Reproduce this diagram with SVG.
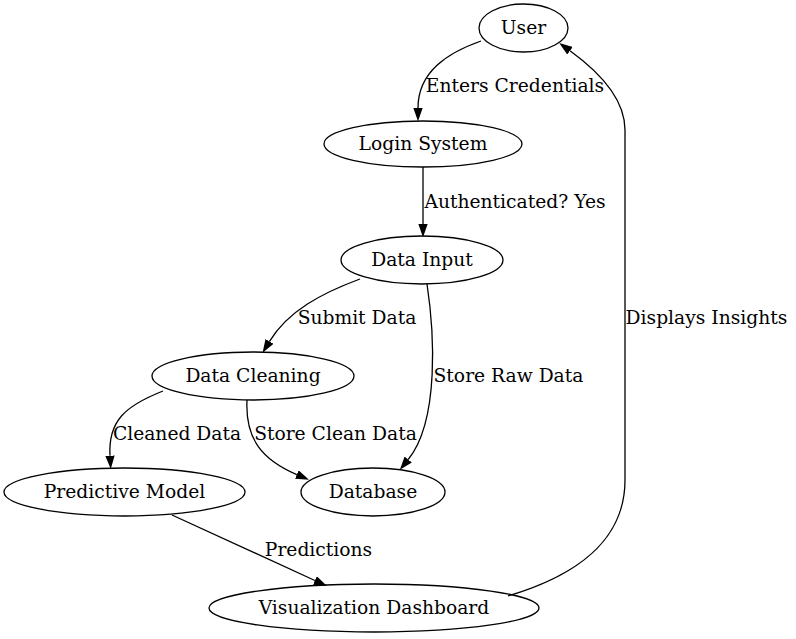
<svg xmlns="http://www.w3.org/2000/svg" width="796" height="639" viewBox="0 0 796 639">
<style>
.node ellipse{fill:none;stroke:#000;stroke-width:1.3}
text{font-family:"DejaVu Serif","Liberation Serif",serif;font-size:18.7px;fill:#000;text-anchor:middle}
.edges path{fill:none;stroke:#000;stroke-width:1.3}
</style>
<defs>
<marker id="arr" viewBox="0 0 13.3 9.3" refX="0" refY="4.65" markerWidth="13.3" markerHeight="9.3" markerUnits="userSpaceOnUse" orient="auto">
<path d="M0,0 L13.3,4.65 L0,9.3 Z" fill="#000"/>
</marker>
</defs>
<rect width="796" height="639" fill="#fff"/>
<g class="edges">
<path d="M481,41 C447,53 418,72 418,108" marker-end="url(#arr)"/>
<path d="M423,167 L423,224" marker-end="url(#arr)"/>
<path d="M360,279 C322,293 288,311 269.5,341.4" marker-end="url(#arr)"/>
<path d="M427,284 C434,330 440,420 408.2,459.5" marker-end="url(#arr)"/>
<path d="M163,391 C125,406 108,421 110,455.7" marker-end="url(#arr)"/>
<path d="M247,400 C245,440 263,460 296.8,474.6" marker-end="url(#arr)"/>
<path d="M172,515 L314.9,580.5" marker-end="url(#arr)"/>
<path d="M508,596 C575,576 625,542 625,480 L625,130 C625,100 602,74 570,50.8" marker-end="url(#arr)"/>
<text x="515" y="91.5">Enters Credentials</text>
<text x="515" y="207.5">Authenticated? Yes</text>
<text x="357" y="323.5">Submit Data</text>
<text x="706.5" y="323.5">Displays Insights</text>
<text x="508.5" y="381.5">Store Raw Data</text>
<text x="177" y="439.5">Cleaned Data</text>
<text x="335.5" y="439.5">Store Clean Data</text>
<text x="318.5" y="555.5">Predictions</text>
</g>
<g id="user" class="node"><ellipse cx="523.5" cy="28" rx="44.5" ry="24"/><text x="523.5" y="33.5">User</text></g>
<g id="login" class="node"><ellipse cx="423" cy="144" rx="99" ry="23"/><text x="423" y="149.5">Login System</text></g>
<g id="input" class="node"><ellipse cx="422" cy="260" rx="81" ry="24"/><text x="422" y="265.5">Data Input</text></g>
<g id="cleaning" class="node"><ellipse cx="253" cy="376" rx="101" ry="24"/><text x="253" y="381.5">Data Cleaning</text></g>
<g id="model" class="node"><ellipse cx="124.5" cy="492" rx="120.5" ry="24"/><text x="124.5" y="497.5">Predictive Model</text></g>
<g id="database" class="node"><ellipse cx="373" cy="492" rx="72" ry="24"/><text x="373" y="497.5">Database</text></g>
<g id="dashboard" class="node"><ellipse cx="374" cy="608" rx="165" ry="24"/><text x="374" y="613.5">Visualization Dashboard</text></g>
</svg>
